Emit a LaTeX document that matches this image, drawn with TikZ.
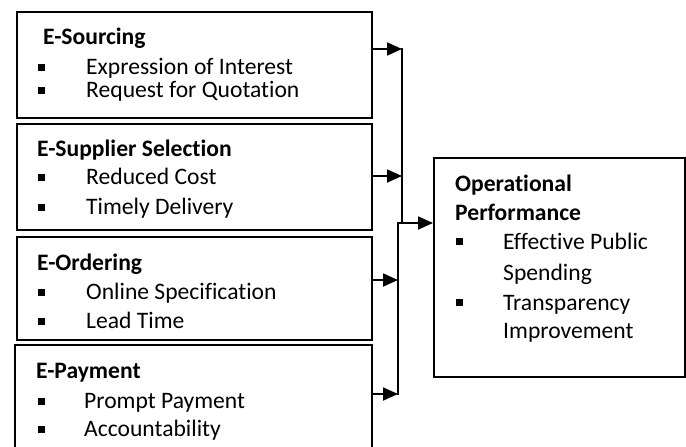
\documentclass[tikz,border=0pt]{standalone}
\usepackage{fontspec}
\setmainfont{Carlito}[RawFeature=-liga]
\usetikzlibrary{arrows.meta}
\newcommand\sqbullet[2]{\fill (#1-3.5,#2-3.5) rectangle ++(7,7);}
\begin{document}
\begin{tikzpicture}[x=1pt,y=-1pt,
  box/.style={draw=black, line width=1.8pt, rectangle, anchor=north west, inner sep=0pt},
  head/.style={anchor=base west, inner sep=0pt, font=\fontsize{23.6}{28}\selectfont\bfseries},
  item/.style={anchor=base west, inner sep=0pt, font=\fontsize{23.6}{28}\selectfont},
  link/.style={line width=1.8pt, -{Triangle[length=15pt,width=13pt]}},
  rail/.style={line width=1.8pt, line cap=rect}]
\clip (0,0) rectangle (686,447);

% input boxes
\node[box, minimum width=355pt, minimum height=106pt] (src) at (16,11) {};
\node[box, minimum width=355pt, minimum height=106pt] (sel) at (16,123) {};
\node[box, minimum width=355pt, minimum height=103pt] (ord) at (16,236) {};
\node[box, minimum width=357pt, minimum height=124pt] (pay) at (14,344) {};
% outcome box
\node[box, minimum width=251pt, minimum height=219pt] (perf) at (433,157) {};

% E-Sourcing
\node[head] (srcT) at (43,45) {E-Sourcing};
\node[item] (srcA) at (86,74) {Expression of Interest};
\node[item] (srcB) at (86,97) {Request for Quotation};
\sqbullet{41.5}{67}\sqbullet{41.5}{90}

% E-Supplier Selection
\node[head] (selT) at (37,156) {E-Supplier Selection};
\node[item] (selA) at (86,184) {Reduced Cost};
\node[item] (selB) at (86,214) {Timely Delivery};
\sqbullet{41.5}{177}\sqbullet{41.5}{207}

% E-Ordering
\node[head] (ordT) at (37,270) {E-Ordering};
\node[item] (ordA) at (86,299) {Online Specification};
\node[item] (ordB) at (86,328) {Lead Time};
\sqbullet{41.5}{292}\sqbullet{41.5}{321}

% E-Payment
\node[head] (payT) at (36,378) {E-Payment};
\node[item] (payA) at (84,408) {Prompt Payment};
\node[item] (payB) at (84,436) {Accountability};
\sqbullet{41.5}{401}\sqbullet{41.5}{429}

% Operational Performance
\node[head] (perfT1) at (455,191) {Operational};
\node[head] (perfT2) at (455,220) {Performance};
\node[item] (perfA1) at (503,249) {Effective Public};
\node[item] (perfA2) at (503,280) {Spending};
\node[item] (perfB1) at (503,310) {Transparency};
\node[item] (perfB2) at (503,338) {Improvement};
\sqbullet{459.5}{241}\sqbullet{459.5}{302}

% connectors
\coordinate (j1) at (402,49);
\coordinate (j2) at (402,176);
\coordinate (jm) at (402,223);
\coordinate (k0) at (398,223);
\coordinate (k3) at (398,280);
\coordinate (k4) at (398,394);
\draw[rail] (j1) -- (jm);
\draw[rail] (k0) -- (k4);
\draw[link] (src.east |- j1) -- (j1);
\draw[link] (sel.east |- j2) -- (j2);
\draw[link] (ord.east |- k3) -- (k3);
\draw[link] (pay.east |- k4) -- (k4);
\draw[link] (k0) -- (perf.west |- k0);
\end{tikzpicture}
\end{document}
